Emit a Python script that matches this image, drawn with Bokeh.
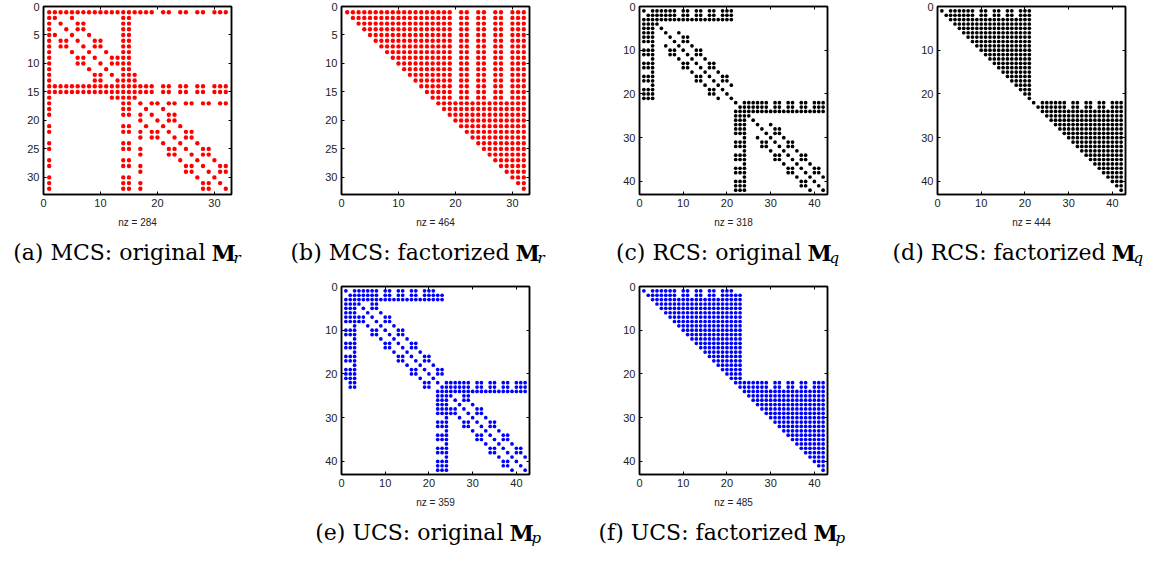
from bokeh.plotting import figure
from bokeh.layouts import column, row
from bokeh.models import Range1d, FixedTicker, LinearAxis, Spacer
from bokeh.embed import file_html
from bokeh.resources import INLINE
from bokeh.core.properties import value

# ---------------- data: sparsity patterns, one spec string per matrix row ----------------
MCS_ORIG = [
    "1-19,21,22,24,25,27,28,30-32",
    "1,2,5,14,15",
    "1,3,6,7,14,15",
    "1,4,6,7,14,15",
    "1,2,5,8,14,15",
    "1,3,4,6,9,10,14,15",
    "1,3,4,7,9,10,14,15",
    "1,5,8,11,14,15",
    "1,6,7,9,12,13,14,15",
    "1,6,7,10,12,13,14,15",
    "1,8,11,14,15",
    "1,9,10,12,14-16",
    "1,9,10,13-16",
    "1-19,21,22,24,25,27,28,30-32",
    "1-19,21,22,24,25,27,28,30-32",
    "1,12-16",
    "1,14,15,17,19,20,22,23,25,26,28,29,31,32",
    "1,14,15,18,21",
    "1,14,15,17,19,22,23",
    "17,20,22,23",
    "1,14,15,18,21,24",
    "1,14,15,17,19,20,22,25,26",
    "17,19,20,23,25,26",
    "1,14,15,21,24,27",
    "1,14,15,17,22,23,25,28,29",
    "17,22,23,26,28,29",
    "1,14,15,24,27,30",
    "1,14,15,17,25,26,28,31,32",
    "17,25,26,29,31,32",
    "1,14,15,27,30",
    "1,14,15,17,28,29,31",
    "1,14,15,17,28,29,32",
]

MCS_FACT = [
    "1-19,21,22,24,25,27,28,30-32", "2-19,21,22,24,25,27,28,30-32",
    "3-19,21,22,24,25,27,28,30-32", "4-19,21,22,24,25,27,28,30-32",
    "5-19,21,22,24,25,27,28,30-32", "6-19,21,22,24,25,27,28,30-32",
    "7-19,21,22,24,25,27,28,30-32", "8-19,21,22,24,25,27,28,30-32",
    "9-19,21,22,24,25,27,28,30-32", "10-19,21,22,24,25,27,28,30-32",
    "11-19,21,22,24,25,27,28,30-32", "12-19,21,22,24,25,27,28,30-32",
    "13-19,21,22,24,25,27,28,30-32", "14-19,21,22,24,25,27,28,30-32",
    "15-19,21,22,24,25,27,28,30-32", "16-19,21,22,24,25,27,28,30-32",
    "17-32", "18-32", "19-32", "20-32", "21-32", "22-32", "23-32", "24-32",
    "25-32", "26-32", "27-32", "28-32", "29-32", "30-32", "31-32", "32",
]

RCS_ORIG = [
    "1,3-8,10,11,13,14,16,17,19-21",
    "2-8,10,11,13,14,16,17,19-21",
    "1-21",
    "1-4",
    "1-3,5",
    "1-3,6,9",
    "1-3,7,10,11",
    "1-3,8,10,11",
    "3,6,9,12",
    "1-3,7,8,10,13,14",
    "1-3,7,8,11,13,14",
    "3,9,12,15",
    "1-3,10,11,13,16,17",
    "1-3,10,11,14,16,17",
    "3,12,15,18",
    "1-3,13,14,16,19,20",
    "1-3,13,14,17,19,20",
    "3,15,18,21",
    "1-3,16,17,19",
    "1-3,16,17,20",
    "1-3,18,21",
    "22,24-29,31,32,34,35,37,38,40-42",
    "23-29,31,32,34,35,37,38,40-42",
    "22-42",
    "22-25",
    "22-24,26",
    "22-24,27,30",
    "22-24,28,31,32",
    "22-24,29,31,32",
    "24,27,30,33",
    "22-24,28,29,31,34,35",
    "22-24,28,29,32,34,35",
    "24,30,33,36",
    "22-24,31,32,34,37,38",
    "22-24,31,32,35,37,38",
    "24,33,36,39",
    "22-24,34,35,37,40,41",
    "22-24,34,35,38,40,41",
    "24,36,39,42",
    "22-24,37,38,40",
    "22-24,37,38,41",
    "22-24,39,42",
]

RCS_FACT = [
    "1,3-8,10,11,13,14,16,17,19-21", "2-8,10,11,13,14,16,17,19-21",
    "3-21", "4-21", "5-21", "6-21", "7-21", "8-21", "9-21", "10-21",
    "11-21", "12-21", "13-21", "14-21", "15-21", "16-21", "17-21", "18-21",
    "19-21", "20-21", "21",
    "22,24-29,31,32,34,35,37,38,40-42", "23-29,31,32,34,35,37,38,40-42",
    "24-42", "25-42", "26-42", "27-42", "28-42", "29-42", "30-42", "31-42",
    "32-42", "33-42", "34-42", "35-42", "36-42", "37-42", "38-42", "39-42",
    "40-42", "41-42", "42",
]

UCS_ORIG = [
    "1,3-8,10,11,13,14,16,17,19-21",
    "2-8,10,11,13,14,16,17,19-23",
    "1-23",
    "1-4,7,8",
    "1-3,5,7,8",
    "1-3,6,9",
    "1-5,7,10,11",
    "1-5,8,10,11",
    "3,6,9,12",
    "1-3,7,8,10,13,14",
    "1-3,7,8,11,13,14",
    "3,9,12,15",
    "1-3,10,11,13,16,17",
    "1-3,10,11,14,16,17",
    "3,12,15,18",
    "1-3,13,14,16,19,20",
    "1-3,13,14,17,19,20",
    "3,15,18,21",
    "1-3,16,17,19,22,23",
    "1-3,16,17,20,22,23",
    "1-3,18,21",
    "2,3,19,20,22,24-29,31,32,34,35,37,38,40-42",
    "2,3,19,20,23-29,31,32,34,35,37,38,40-42",
    "22-42",
    "22-25,28,29",
    "22-24,26,28,29",
    "22-24,27,30",
    "22-26,28,31,32",
    "22-26,29,31,32",
    "24,27,30,33",
    "22-24,28,29,31,34,35",
    "22-24,28,29,32,34,35",
    "24,30,33,36",
    "22-24,31,32,34,37,38",
    "22-24,31,32,35,37,38",
    "24,33,36,39",
    "22-24,34,35,37,40,41",
    "22-24,34,35,38,40,41",
    "24,36,39,42",
    "22-24,37,38,40",
    "22-24,37,38,41",
    "22-24,39,42",
]

UCS_FACT = [
    "1,3-8,10,11,13,14,16,17,19-21", "2-8,10,11,13,14,16,17,19-23",
    "3-23", "4-23", "5-23", "6-23", "7-23", "8-23", "9-23", "10-23",
    "11-23", "12-23", "13-23", "14-23", "15-23", "16-23", "17-23", "18-23",
    "19-23", "20-23", "21-23",
    "22-29,31,32,34,35,37,38,40-42", "23-29,31,32,34,35,37,38,40-42",
    "24-42", "25-42", "26-42", "27-42", "28-42", "29-42", "30-42", "31-42",
    "32-42", "33-42", "34-42", "35-42", "36-42", "37-42", "38-42", "39-42",
    "40-42", "41-42", "42",
]

NZ_LABELS = ["nz = 284", "nz = 464", "nz = 318", "nz = 444", "nz = 359", "nz = 485"]
CAPTION_MAIN = ["(a) MCS: original", "(b) MCS: factorized", "(c) RCS: original",
                "(d) RCS: factorized", "(e) UCS: original", "(f) UCS: factorized"]
CAPTION_SUB = ["r", "r", "q", "q", "p", "p"]
COLORS = ["#ff0000", "#ff0000", "#000000", "#000000", "#0000ff", "#0000ff"]
TICKS_32 = [0, 5, 10, 15, 20, 25, 30]
TICKS_32X = [0, 10, 20, 30]
TICKS_42 = [0, 10, 20, 30, 40]


def parse(rows):
    xs, ys = [], []
    for i, spec in enumerate(rows, start=1):
        for part in spec.split(","):
            part = part.strip()
            if not part:
                continue
            if "-" in part:
                a, b = part.split("-")
                cols = range(int(a), int(b) + 1)
            else:
                cols = [int(part)]
            for c in cols:
                xs.append(c)
                ys.append(i)
    return xs, ys


FRAME = 188
LEFT = 43
RIGHT = 67
TOP = 6
BOTTOM = 36
TICK_FONT = "11px"
TICK_COLOR = "#222222"


def spy(rows, color, ticks_y, ticks_x, nz, dot):
    n = len(rows)
    xs, ys = parse(rows)
    p = figure(frame_width=FRAME, frame_height=FRAME,
               min_border_left=LEFT, min_border_right=RIGHT,
               min_border_top=TOP, min_border_bottom=BOTTOM,
               x_range=Range1d(0, n + 1), y_range=Range1d(n + 1, 0),
               output_backend="svg", toolbar_location=None,
               x_axis_location="below", y_axis_location="left")
    p.scatter(xs, ys, size=dot, fill_color=color, line_color=None)
    p.grid.visible = False
    p.outline_line_color = "black"
    p.outline_line_width = 1.5
    p.background_fill_color = "white"
    p.border_fill_color = "white"
    for ax, tk in ((p.xaxis[0], ticks_x), (p.yaxis[0], ticks_y)):
        ax.ticker = FixedTicker(ticks=tk)
        ax.major_tick_in = 3
        ax.major_tick_out = 0
        ax.minor_tick_line_color = None
        ax.axis_line_color = "black"
        ax.axis_line_width = 1.5
        ax.major_tick_line_color = "black"
        ax.major_label_text_font = "Liberation Sans"
        ax.major_label_text_font_size = TICK_FONT
        ax.major_label_text_color = TICK_COLOR
        ax.major_label_standoff = 4
    p.xaxis[0].axis_label = nz
    p.xaxis[0].axis_label_text_font = "Liberation Sans"
    p.xaxis[0].axis_label_text_font_size = "10px"
    p.xaxis[0].axis_label_text_font_style = "normal"
    p.xaxis[0].axis_label_text_color = TICK_COLOR
    p.xaxis[0].axis_label_standoff = 7
    # mirrored inward ticks on the top and right edges
    for loc, tk in (("above", ticks_x), ("right", ticks_y)):
        ax = LinearAxis(ticker=FixedTicker(ticks=tk))
        ax.major_tick_in = 3
        ax.major_tick_out = 0
        ax.minor_tick_line_color = None
        ax.axis_line_color = "black"
        ax.axis_line_width = 1.5
        ax.major_label_text_font_size = "0px"
        ax.major_label_standoff = 0
        ax.major_label_text_color = None
        p.add_layout(ax, loc)
    return p


panels = [
    spy(MCS_ORIG, COLORS[0], TICKS_32, TICKS_32X, NZ_LABELS[0], 4.4),
    spy(MCS_FACT, COLORS[1], TICKS_32, TICKS_32X, NZ_LABELS[1], 4.4),
    spy(RCS_ORIG, COLORS[2], TICKS_42, TICKS_42, NZ_LABELS[2], 3.7),
    spy(RCS_FACT, COLORS[3], TICKS_42, TICKS_42, NZ_LABELS[3], 3.7),
    spy(UCS_ORIG, COLORS[4], TICKS_42, TICKS_42, NZ_LABELS[4], 3.7),
    spy(UCS_FACT, COLORS[5], TICKS_42, TICKS_42, NZ_LABELS[5], 3.7),
]

PITCH = 298
TOTAL_W = 4 * PITCH
CAP_FONT = "DejaVu Serif"
CAP_SIZE = "22px"
SUB_SIZE = "15px"


def caption_strip(height, items, y_text):
    c = figure(width=TOTAL_W, height=height, x_range=Range1d(8, 8 + TOTAL_W),
               y_range=Range1d(height, 0), output_backend="svg", toolbar_location=None,
               min_border=0)
    c.axis.visible = False
    c.grid.visible = False
    c.outline_line_color = None
    for k, xm in items:
        c.text(x=[xm - 6], y=[y_text], text=[CAPTION_MAIN[k]], text_align="right",
               text_baseline="middle", text_font=value(CAP_FONT), text_font_size=CAP_SIZE,
               text_color="black")
        c.text(x=[xm], y=[y_text], text=["M"], text_align="left",
               text_baseline="middle", text_font=value(CAP_FONT), text_font_size=CAP_SIZE,
               text_font_style="bold", text_color="black")
        c.text(x=[xm + 22], y=[y_text + 5], text=[CAPTION_SUB[k]], text_align="left",
               text_baseline="middle", text_font=value(CAP_FONT), text_font_size=SUB_SIZE,
               text_font_style="italic", text_color="black")
    return c


def centre(col):
    return 8 + col * PITCH + LEFT + FRAME / 2


ORIG_SHIFT = 74
FACT_SHIFT = 80
cap_top = caption_strip(50, [(0, centre(0) + ORIG_SHIFT), (1, centre(1) + FACT_SHIFT),
                             (2, centre(2) + ORIG_SHIFT), (3, centre(3) + FACT_SHIFT)], 22)
cap_bot = caption_strip(40, [(4, centre(1) + ORIG_SHIFT), (5, centre(2) + FACT_SHIFT)], 22)

layout = column(
    row(*panels[:4]),
    cap_top,
    row(Spacer(width=PITCH, height=10), panels[4], panels[5]),
    cap_bot,
)

open("out.html", "w").write(file_html(layout, INLINE))
